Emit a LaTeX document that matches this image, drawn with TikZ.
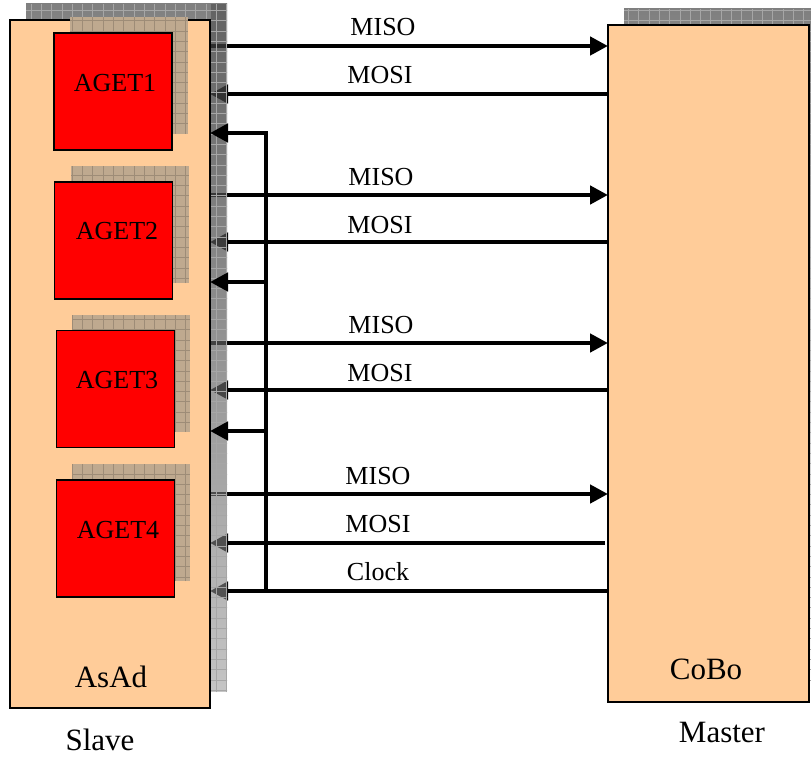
\documentclass[tikz,border=0pt]{standalone}
\usepackage{fontspec}
\setmainfont{Liberation Serif}
\usetikzlibrary{arrows.meta}
\definecolor{peach}{HTML}{FFCC99}
\definecolor{shade}{HTML}{C2C2C2}
\definecolor{shadegrid}{HTML}{A6A6A6}
\definecolor{ashade}{HTML}{BFA98F}
\definecolor{ashadegrid}{HTML}{9E8C77}
\newcommand{\gridshade}[6]{%
  \begin{scope}
    \clip (#1,#2) rectangle (#3,#4);
    \fill[#5] (#1,#2) rectangle (#3,#4);
    \draw[#6,line width=0.5pt,step=10.3pt] (#1,#4) grid (#3,#2);
  \end{scope}}
\begin{document}
\begin{tikzpicture}[x=1pt,y=-1pt,
  box/.style={draw=black,line width=1.4pt,inner sep=0pt,outer sep=0pt},
  board/.style={box,fill=peach},
  chip/.style={box,fill=red,minimum width=118pt,minimum height=117pt},
  wire/.style={line width=4.7pt},
  arr/.style={-{Triangle[length=18pt,width=18pt]}},
  lbl/.style={anchor=base,inner sep=0pt,font=\fontsize{26}{28}\selectfont},
  big/.style={anchor=base,inner sep=0pt,font=\fontsize{31}{33}\selectfont}]
\useasboundingbox (0,0) rectangle (811,757);
\clip (0,0) rectangle (811,757);
% board shadows
\gridshade{26}{4}{227}{692}{shade}{shadegrid}
\gridshade{624}{9}{830}{686}{shade}{shadegrid}
% boards
\node[board,minimum width=200pt,minimum height=688pt] (asad) at (110,364) {};
\node[board,minimum width=201pt,minimum height=677pt] (cobo) at (708.5,363.5) {};
% chip shadows
\gridshade{70}{17}{188}{134}{ashade}{ashadegrid}
\gridshade{71}{166}{189}{283}{ashade}{ashadegrid}
\gridshade{72}{314.5}{190}{431.5}{ashade}{ashadegrid}
\gridshade{72}{464}{190}{581}{ashade}{ashadegrid}
% chips
\node[chip] (aget1) at (113,91.5) {};
\node[chip] (aget2) at (113.5,240.5) {};
\node[chip] (aget3) at (115.5,389) {};
\node[chip] (aget4) at (115.5,538.5) {};
\node[lbl] (t1) at (115,92) {AGET1};
\node[lbl] (t2) at (117,239) {AGET2};
\node[lbl] (t3) at (117,388) {AGET3};
\node[lbl] (t4) at (118,538) {AGET4};
% signal rows
\coordinate (mi1) at (0,46);  \coordinate (mo1) at (0,94);
\coordinate (mi2) at (0,195); \coordinate (mo2) at (0,242);
\coordinate (mi3) at (0,343); \coordinate (mo3) at (0,390);
\coordinate (mi4) at (0,494); \coordinate (mo4) at (0,543);
\coordinate (b1) at (266,133);
\coordinate (b2) at (266,282);
\coordinate (b3) at (266,431);
\coordinate (b4) at (266,591);
\draw[wire,arr] (asad.east |- mi1) -- (cobo.west |- mi1);
\draw[wire,arr] (cobo.west |- mo1) -- (asad.east |- mo1);
\draw[wire,arr] (asad.east |- mi2) -- (cobo.west |- mi2);
\draw[wire,arr] (cobo.west |- mo2) -- (asad.east |- mo2);
\draw[wire,arr] (asad.east |- mi3) -- (cobo.west |- mi3);
\draw[wire,arr] (cobo.west |- mo3) -- (asad.east |- mo3);
\draw[wire,arr] (asad.east |- mi4) -- (cobo.west |- mi4);
\draw[wire,arr] ([xshift=-3pt]cobo.west |- mo4) -- (asad.east |- mo4);
\draw[wire,arr] (cobo.west |- b4) -- (asad.east |- b4);
% shadow strip lying over the line ends
\fill[shade,opacity=0.35] (211,4) rectangle (227,692);
\begin{scope}
  \clip (211,4) rectangle (227,692);
  \draw[shadegrid,line width=0.5pt,step=10.3pt] (200,692) grid (240,4);
\end{scope}
% clock bus
\draw[wire,line cap=rect] (b1) -- (b4);
\draw[wire,arr] (b1) -- (asad.east |- b1);
\draw[wire,arr] (b2) -- (asad.east |- b2);
\draw[wire,arr] (b3) -- (asad.east |- b3);
% labels
\node[lbl] (l1) at (383,36) {MISO};
\node[lbl] (l2) at (380,84) {MOSI};
\node[lbl] (l3) at (381,185) {MISO};
\node[lbl] (l4) at (380,233) {MOSI};
\node[lbl] (l5) at (381,333) {MISO};
\node[lbl] (l6) at (380,381) {MOSI};
\node[lbl] (l7) at (378,484) {MISO};
\node[lbl] (l8) at (378,532) {MOSI};
\node[lbl] (l9) at (378,580) {Clock};
\node[big] (n1) at (111,687) {AsAd};
\node[big] (n2) at (706,679) {CoBo};
\node[big] (n3) at (100,750) {Slave};
\node[big] (n4) at (722,742) {Master};
\end{tikzpicture}
\end{document}
